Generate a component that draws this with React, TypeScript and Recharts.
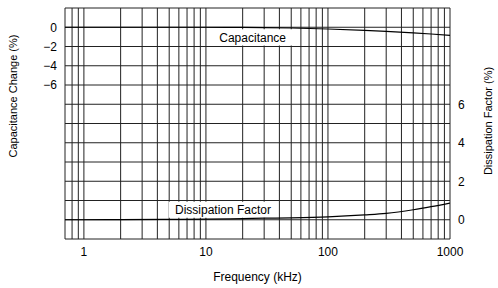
import React from "react";
import {
  LineChart,
  Line,
  XAxis,
  YAxis,
  CartesianGrid,
  ReferenceArea,
  Label,
} from "recharts";

// Frequency (kHz) sample points
const freqs = [0.7, 1, 2, 5, 10, 20, 30, 50, 100, 200, 300, 500, 700, 1000];
// Capacitance change (%)
const capChange = [0, 0, 0, 0, 0, -0.01, -0.03, -0.08, -0.18, -0.32, -0.42, -0.58, -0.7, -0.85];
// Dissipation factor (%)
const dissipation = [0, 0, 0.01, 0.02, 0.03, 0.06, 0.08, 0.1, 0.15, 0.25, 0.33, 0.52, 0.68, 0.87];

// Grid / tick values
const xGrid = [
  0.7, 0.8, 0.9, 1, 2, 3, 4, 5, 6, 7, 8, 9, 10, 20, 30, 40, 50, 60, 70, 80, 90,
  100, 200, 300, 400, 500, 600, 700, 800, 900, 1000,
];
const xLabels = [1, 10, 100, 1000];
const capGrid = [2, 0, -2, -4, -6, -8, -10, -12, -14, -16, -18, -20, -22];
const capLabels = [0, -2, -4, -6];
const dfTicks = [0, 2, 4, 6];

const data = freqs.map((f, i) => ({ f, cap: capChange[i], df: dissipation[i] }));

const FONT = "'Liberation Sans', Arial, Helvetica, sans-serif";
const FS = 12;
const TFS = 11;

const fmt = (v: number) => (v < 0 ? "\u2212" + Math.abs(v) : String(v));

const XTick = (p: any) => {
  const v = p.payload.value;
  if (!xLabels.includes(v)) return null;
  return (
    <text x={p.x} y={p.y} dy="0.71em" textAnchor="middle" fill="#000" fontSize={FS} fontFamily={FONT}>
      {v}
    </text>
  );
};

const CapTick = (p: any) => {
  const v = p.payload.value;
  if (!capLabels.includes(v)) return null;
  return (
    <text x={p.x} y={p.y} dy="0.355em" textAnchor="end" fill="#000" fontSize={FS} fontFamily={FONT}>
      {fmt(v)}
    </text>
  );
};

const DfTick = (p: any) => (
  <text x={p.x} y={p.y} dy="0.355em" textAnchor="start" fill="#000" fontSize={FS} fontFamily={FONT}>
    {p.payload.value}
  </text>
);

const leftTitle = (props: any) => {
  const vb = props.viewBox;
  const x = vb.x + 13;
  const y = vb.y + 88;
  return (
    <text x={x} y={y} transform={`rotate(-90, ${x}, ${y})`} textAnchor="middle" dominantBaseline="central" fill="#000" fontSize={TFS} fontFamily={FONT}>
      Capacitance Change (%)
    </text>
  );
};

const rightTitle = (props: any) => {
  const vb = props.viewBox;
  const x = vb.x + vb.width - 10;
  const y = vb.y + 113;
  return (
    <text x={x} y={y} transform={`rotate(-90, ${x}, ${y})`} textAnchor="middle" dominantBaseline="central" fill="#000" fontSize={TFS} fontFamily={FONT}>
      Dissipation Factor (%)
    </text>
  );
};

const bottomTitle = (props: any) => {
  const vb = props.viewBox;
  const x = vb.x + vb.width / 2;
  const y = vb.y + 38;
  return (
    <text x={x} y={y} textAnchor="middle" dominantBaseline="central" fill="#000" fontSize={FS} fontFamily={FONT}>
      Frequency (kHz)
    </text>
  );
};

export default function App() {
  return (
    <div style={{ position: "absolute", left: 0, top: 0, width: 498, height: 288, background: "#fff" }}>
      <LineChart width={498} height={288} data={data} margin={{ top: 8, right: 0, bottom: 0, left: 0 }}>
        <CartesianGrid stroke="#222" strokeWidth={1} yAxisId="cap" />
        <XAxis
          dataKey="f"
          type="number"
          scale="log"
          domain={[0.7, 1000]}
          ticks={xGrid}
          interval={0}
          allowDataOverflow
          height={49}
          axisLine={false}
          tickLine={false}
          tick={<XTick />}
        >
          <Label content={bottomTitle} />
        </XAxis>
        <YAxis
          yAxisId="cap"
          type="number"
          domain={[-22, 2]}
          ticks={capGrid}
          interval={0}
          width={65}
          axisLine={false}
          tickLine={false}
          tick={<CapTick />}
        >
          <Label content={leftTitle} />
        </YAxis>
        <YAxis
          yAxisId="df"
          orientation="right"
          type="number"
          domain={[-1, 11]}
          ticks={dfTicks}
          interval={0}
          width={48}
          axisLine={false}
          tickLine={false}
          tick={<DfTick />}
        >
          <Label content={rightTitle} />
        </YAxis>
        <ReferenceArea
          yAxisId="cap"
          x1={10.6}
          x2={55}
          y1={-1.9}
          y2={-0.2}
          fill="#fff"
          fillOpacity={1}
          stroke="none"
          label={{ value: "Capacitance", position: "center", fill: "#000", fontSize: FS, fontFamily: FONT }}
        />
        <ReferenceArea
          yAxisId="df"
          x1={4.96}
          x2={38.4}
          y1={0.1}
          y2={0.93}
          fill="#fff"
          fillOpacity={1}
          stroke="none"
          label={{ value: "Dissipation Factor", position: "center", fill: "#000", fontSize: FS, fontFamily: FONT }}
        />
        <Line yAxisId="cap" dataKey="cap" type="monotone" stroke="#000" strokeWidth={1.2} dot={false} isAnimationActive={false} />
        <Line yAxisId="df" dataKey="df" type="monotone" stroke="#000" strokeWidth={1.2} dot={false} isAnimationActive={false} />
      </LineChart>
    </div>
  );
}
